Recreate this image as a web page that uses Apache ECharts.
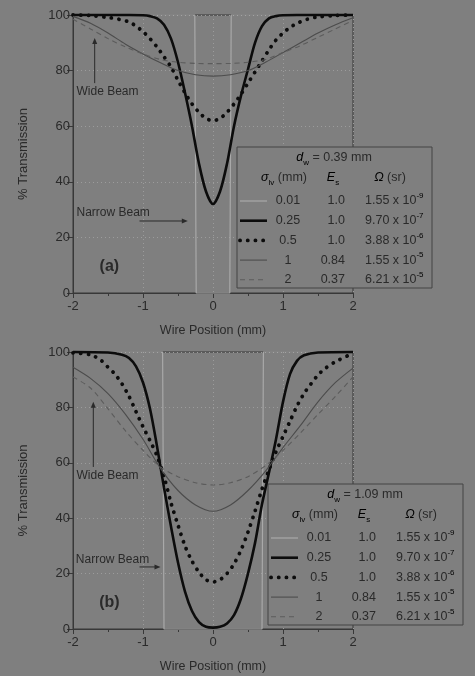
<!DOCTYPE html>
<html>
<head>
<meta charset="utf-8">
<script src="https://cdn.jsdelivr.net/npm/echarts@6/dist/echarts.min.js"></script>
<style>
  html, body { margin: 0; padding: 0; background: #7f7f7f; }
  #chart { width: 475px; height: 676px; }
</style>
</head>
<body>
<div id="chart"></div>
<script>
// ---------- Panel (a): wire diameter 0.39 mm ----------
const xA_s001 = [-2, -0.26, -0.24, 0.24, 0.26, 2];
const yA_s001 = [100, 100, 0, 0, 100, 100];

const xA_s025 = [-2, -1.5, -1.2, -1, -0.9, -0.8, -0.7, -0.6, -0.5, -0.4, -0.3, -0.2, -0.1, 0,
                 0.1, 0.2, 0.3, 0.4, 0.5, 0.6, 0.7, 0.8, 0.9, 1, 1.2, 1.5, 2];
const yA_s025 = [100, 100, 100, 99.9, 99.6, 98.8, 96.5, 91.5, 83, 72, 60, 46.5, 36.5, 32,
                 36.5, 46.5, 60, 71, 80.5, 90, 96, 98.8, 99.6, 99.9, 100, 100, 100];

const xA_s05 = [-2, -1.75, -1.5, -1.35, -1.2, -1.1, -1, -0.9, -0.8, -0.7, -0.6, -0.5, -0.4, -0.3, -0.2, -0.1, 0,
                0.1, 0.2, 0.3, 0.4, 0.5, 0.6, 0.7, 0.8, 0.9, 1, 1.1, 1.2, 1.35, 1.5, 1.75, 2];
const yA_s05 = [100, 99.8, 99.1, 98.5, 97.5, 96, 94, 91.5, 88.5, 85, 81.3, 76.5, 72, 68, 65, 62.8, 62,
                62.8, 65, 68, 71.5, 75.5, 79.5, 83.5, 87.5, 91, 93.5, 95.5, 97, 98.5, 99.3, 99.8, 100];

const xA_wide = [-2, -1.75, -1.5, -1.25, -1, -0.75, -0.5, -0.25, 0, 0.25, 0.5, 0.75, 1, 1.25, 1.5, 1.75, 2];
const yA_s1 = [99.5, 97, 93.5, 89.5, 86, 82.8, 80, 78.5, 78, 78.5, 80, 83, 86.5, 90, 93.5, 96.5, 99];
const yA_s2 = [98.5, 95, 91.5, 88.5, 86, 84, 83, 82.6, 82.5, 82.6, 83, 84, 86.5, 89, 92, 95, 98];

// ---------- Panel (b): wire diameter 1.09 mm ----------
const xB_s001 = [-2, -0.72, -0.70, 0.70, 0.72, 2];
const yB_s001 = [100, 100, 0, 0, 100, 100];

const xB_s025 = [-2, -1.5, -1.3, -1.2, -1.1, -1, -0.9, -0.8, -0.7, -0.6, -0.5, -0.4, -0.3, -0.2, -0.1, 0,
                 0.1, 0.2, 0.3, 0.4, 0.5, 0.6, 0.7, 0.8, 0.9, 1, 1.1, 1.2, 1.3, 1.5, 2];
const yB_s025 = [100, 99.8, 99, 97.8, 94.8, 89, 79.5, 66, 51, 37, 24, 13.5, 6.5, 2.5, 0.8, 0.5,
                 0.8, 2, 5, 11, 20, 31, 45, 56.5, 68.5, 82, 92, 96.8, 98.8, 99.8, 100];

const xB_s05 = [-2, -1.75, -1.6, -1.5, -1.4, -1.3, -1.2, -1.1, -1, -0.9, -0.8, -0.7, -0.6, -0.5, -0.4, -0.3, -0.2, -0.1, 0,
                0.1, 0.2, 0.3, 0.4, 0.5, 0.6, 0.7, 0.8, 0.9, 1, 1.1, 1.2, 1.3, 1.4, 1.5, 1.6, 1.75, 2];
const yB_s05 = [99.7, 99, 97, 94.5, 92, 88.5, 84, 78.5, 73, 68, 62.5, 55, 45.5, 37.5, 30, 24.5, 20.5, 17.8, 17,
                17.8, 20, 23.5, 28.5, 35, 42.5, 50.5, 57.5, 64, 69.5, 75, 80.5, 85, 88.5, 91.7, 94, 96.5, 99.5];

const xB_wide = [-2, -1.75, -1.5, -1.25, -1, -0.75, -0.5, -0.25, 0, 0.25, 0.5, 0.75, 1, 1.25, 1.5, 1.75, 2];
const yB_s1 = [94.5, 90.5, 85, 77.5, 68.5, 58, 50, 44.8, 42.5, 44.8, 50, 57, 65.5, 73.5, 82, 89, 94.2];
const yB_s2 = [91, 87, 79.5, 71.5, 64.5, 58.5, 55, 52.8, 52, 52.8, 55, 59, 64.5, 70.8, 77.5, 84, 91];

// ---------- Legend table contents ----------
const wireDiameters = ['0.39', '1.09'];
const beamSigma = ['0.01', '0.25', '0.5', '1', '2'];
const beamEs = ['1.0', '1.0', '1.0', '0.84', '0.37'];
const omegaMantissa = ['1.55', '9.70', '3.88', '1.55', '6.21'];
const omegaExponent = ['-9', '-7', '-6', '-5', '-5'];

// ---------- Axis ticks ----------
const xTicks = { min: -2, max: 2, step: 1 };
const yTicks = { min: 0, max: 100, step: 20 };

const BG = '#7f7f7f';
const INK = '#2a2a2a';
const FRAME = '#383838';
const FONT = '"Liberation Sans", Arial, sans-serif';

// line looks per beam width (0.01, 0.25, 0.5, 1, 2 mm)
const looks = [
  { color: '#a9a9a9', width: 1.2, type: 'solid', smooth: false },
  { color: '#0c0c0c', width: 2.6, type: 'solid', smooth: 0.3 },
  { color: '#0c0c0c', width: 3.8, type: [0.1, 7.6], cap: 'round', smooth: 0.3 },
  { color: '#4c4c4c', width: 1.1, type: 'solid', smooth: 0.3 },
  { color: '#5c5c5c', width: 1.1, type: [5, 4], smooth: 0.3 }
];

const panelData = [
  [[xA_s001, yA_s001], [xA_s025, yA_s025], [xA_s05, yA_s05], [xA_wide, yA_s1], [xA_wide, yA_s2]],
  [[xB_s001, yB_s001], [xB_s025, yB_s025], [xB_s05, yB_s05], [xB_wide, yB_s1], [xB_wide, yB_s2]]
];

const grids = [
  { left: 73, top: 15, width: 280, height: 278 },
  { left: 73, top: 352, width: 280, height: 277 }
];

function pairs(xs, ys) { return xs.map((x, i) => [x, ys[i]]); }

const series = [];
panelData.forEach((curves, g) => {
  curves.forEach((c, k) => {
    const lk = looks[k];
    series.push({
      type: 'line', xAxisIndex: g, yAxisIndex: g,
      data: pairs(c[0], c[1]),
      showSymbol: false, smooth: lk.smooth, clip: false,
      lineStyle: { color: lk.color, width: lk.width, type: lk.type, cap: lk.cap || 'butt' },
      z: 2 + k, silent: true, animation: false
    });
  });
});

const xAxes = grids.map((_, g) => ({
  gridIndex: g, type: 'value', min: xTicks.min, max: xTicks.max, interval: xTicks.step,
  axisLine: { show: true, onZero: false, lineStyle: { color: FRAME, width: 1 } },
  axisTick: { show: true, length: 5, lineStyle: { color: FRAME } },
  minorTick: { show: true, splitNumber: 2, length: 3, lineStyle: { color: FRAME } },
  axisLabel: { fontSize: 13, color: INK, margin: 7, fontFamily: FONT },
  splitLine: { show: true, lineStyle: { type: [1, 3], color: '#9c9c9c', width: 1 } },
  name: 'Wire Position (mm)', nameLocation: 'middle', nameGap: 31,
  nameTextStyle: { fontSize: 12.5, color: INK, fontFamily: FONT }
}));

const yAxes = grids.map((_, g) => ({
  gridIndex: g, type: 'value', min: yTicks.min, max: yTicks.max, interval: yTicks.step,
  axisLine: { show: true, onZero: false, lineStyle: { color: FRAME, width: 1 } },
  axisTick: { show: true, length: 6, lineStyle: { color: FRAME } },
  axisLabel: { fontSize: 13, color: INK, margin: 3, fontFamily: FONT },
  splitLine: { show: true, lineStyle: { type: [1, 3], color: '#9c9c9c', width: 1 } },
  name: '% Transmission', nameLocation: 'middle', nameGap: 43,
  nameTextStyle: { fontSize: 13, color: INK, fontFamily: FONT }
}));

const chart = echarts.init(document.getElementById('chart'));
chart.setOption({
  backgroundColor: BG,
  animation: false,
  grid: grids.map(g => Object.assign({ show: true, borderColor: FRAME, borderWidth: 1, backgroundColor: 'transparent' }, g)),
  xAxis: xAxes,
  yAxis: yAxes,
  series: series
});

// ---------- Legend tables ----------
const rich = {
  n: { fontSize: 12.5, fontFamily: FONT, fill: INK, color: INK, lineHeight: 18 },
  i: { fontSize: 12.5, fontFamily: FONT, fontStyle: 'italic', color: INK, lineHeight: 18 },
  sub: { fontSize: 8, fontFamily: FONT, color: INK, verticalAlign: 'bottom', lineHeight: 18 },
  sup: { fontSize: 8, fontFamily: FONT, color: INK, verticalAlign: 'top', lineHeight: 18 }
};

function txt(x, y, text, align, useRich) {
  return {
    type: 'text', x: x, y: y, silent: true,
    style: useRich
      ? { text: text, rich: rich, align: align, verticalAlign: 'middle' }
      : { text: text, fontSize: 12.5, fontFamily: FONT, fill: INK, align: align, verticalAlign: 'middle' }
  };
}

function legendTable(left, top, dw) {
  const kids = [
    { type: 'rect', shape: { x: 0, y: 0, width: 195, height: 141 },
      style: { fill: BG, stroke: '#444', lineWidth: 1 } },
    txt(97, 11, '{i|d}{sub|w}{n| = ' + dw + ' mm}', 'center', true),
    txt(47, 31, '{i|σ}{sub|lv}{n| (mm)}', 'center', true),
    txt(96, 31, '{i|E}{sub|s}', 'center', true),
    txt(153, 31, '{i|Ω}{n| (sr)}', 'center', true)
  ];
  beamSigma.forEach((s, k) => {
    const y = 54 + k * 19.7;
    const lk = looks[k];
    kids.push({
      type: 'line', silent: true,
      shape: { x1: 3, y1: y, x2: 30, y2: y },
      style: { stroke: lk.color, lineWidth: lk.width, lineDash: Array.isArray(lk.type) ? lk.type : null, lineCap: lk.cap || 'butt' }
    });
    kids.push(txt(51, y, s, 'center', false));
    kids.push(txt(108, y, beamEs[k], 'right', false));
    kids.push(txt(128, y, '{n|' + omegaMantissa[k] + ' x 10}{sup|' + omegaExponent[k] + '}', 'left', true));
  });
  return { type: 'group', x: left, y: top, z: 100, children: kids };
}

// ---------- Annotations, anchored in data space ----------
const notes = [
  { grid: 0, wide: [-1.95, 72.3], wideArrow: [-1.69, 75.5, 91.7], narrow: [-1.95, 28.8], narrowArrow: [-1.05, -0.36, 25.9], tag: '(a)', tagAt: [-1.48, 9.4] },
  { grid: 1, wide: [-1.95, 55.2], wideArrow: [-1.71, 58.5, 82], narrow: [-1.96, 24.9], narrowArrow: [-1.05, -0.75, 22.4], tag: '(b)', tagAt: [-1.48, 9.7] }
];

function px(g, x, y) { return chart.convertToPixel({ gridIndex: g }, [x, y]); }

const graphics = [legendTable(237, 147, wireDiameters[0]), legendTable(268, 484, wireDiameters[1])];

notes.forEach(n => {
  const g = n.grid;
  const w = px(g, n.wide[0], n.wide[1]);
  graphics.push({ type: 'text', x: w[0], y: w[1], silent: true,
    style: { text: 'Wide Beam', fontSize: 12, fontFamily: FONT, fill: INK, align: 'left', verticalAlign: 'middle' } });
  const a0 = px(g, n.wideArrow[0], n.wideArrow[1]);
  const a1 = px(g, n.wideArrow[0], n.wideArrow[2]);
  graphics.push({ type: 'line', silent: true, shape: { x1: a0[0], y1: a0[1], x2: a1[0], y2: a1[1] + 5 },
    style: { stroke: INK, lineWidth: 1 } });
  graphics.push({ type: 'polygon', silent: true,
    shape: { points: [[a1[0], a1[1]], [a1[0] - 2.5, a1[1] + 6], [a1[0] + 2.5, a1[1] + 6]] },
    style: { fill: INK } });

  const t = px(g, n.narrow[0], n.narrow[1]);
  graphics.push({ type: 'text', x: t[0], y: t[1], silent: true,
    style: { text: 'Narrow Beam', fontSize: 12, fontFamily: FONT, fill: INK, align: 'left', verticalAlign: 'middle' } });
  const b0 = px(g, n.narrowArrow[0], n.narrowArrow[2]);
  const b1 = px(g, n.narrowArrow[1], n.narrowArrow[2]);
  graphics.push({ type: 'line', silent: true, shape: { x1: b0[0], y1: b0[1], x2: b1[0] - 5, y2: b1[1] },
    style: { stroke: INK, lineWidth: 1 } });
  graphics.push({ type: 'polygon', silent: true,
    shape: { points: [[b1[0], b1[1]], [b1[0] - 6, b1[1] - 2.5], [b1[0] - 6, b1[1] + 2.5]] },
    style: { fill: INK } });

  const tg = px(g, n.tagAt[0], n.tagAt[1]);
  graphics.push({ type: 'text', x: tg[0], y: tg[1], silent: true,
    style: { text: n.tag, fontSize: 16, fontWeight: 'bold', fontFamily: FONT, fill: INK, align: 'center', verticalAlign: 'middle' } });
});

chart.setOption({ graphic: graphics });
</script>
</body>
</html>
